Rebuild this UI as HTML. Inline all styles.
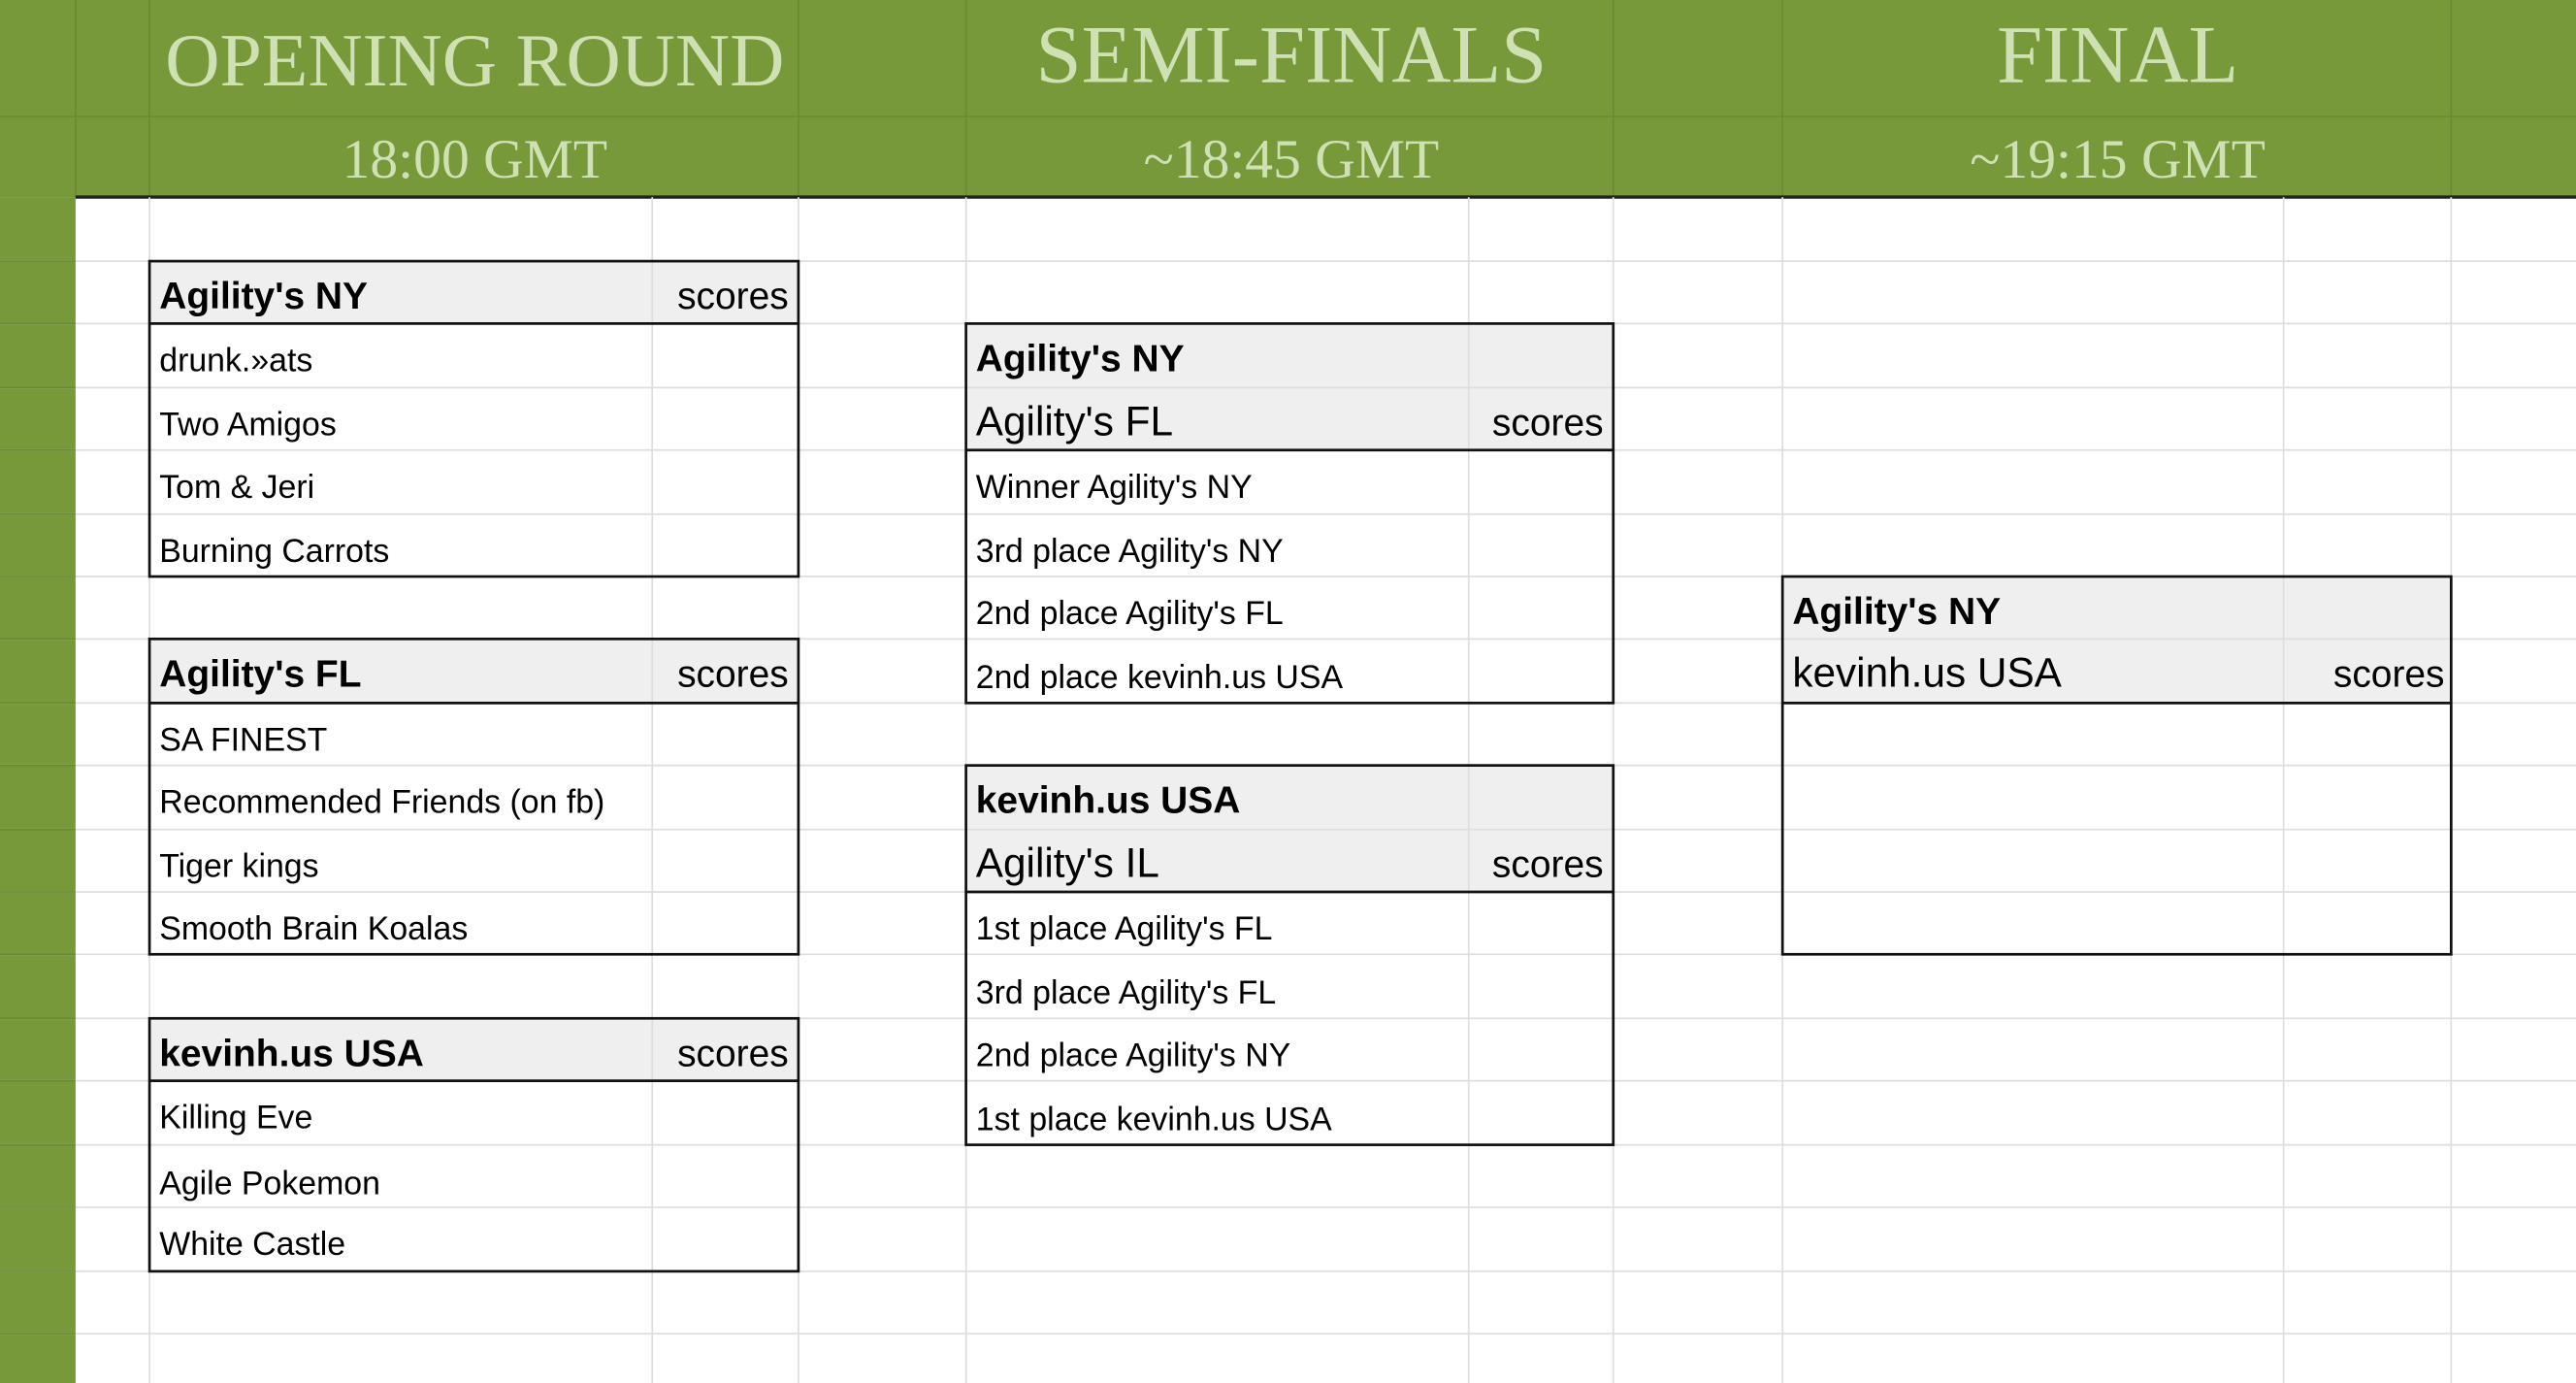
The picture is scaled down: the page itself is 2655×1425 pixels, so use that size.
<!DOCTYPE html>
<html><head><meta charset="utf-8"><style>
html,body{margin:0;padding:0;background:#fff;}
svg{display:block;}
.h{font-family:"Liberation Serif",serif;fill:#cfe0b4;text-anchor:middle;}
.t{font-family:"Liberation Sans",sans-serif;font-size:20px;fill:#000;}
.b{font-family:"Liberation Sans",sans-serif;font-size:23px;font-weight:bold;fill:#000;}
.s{font-family:"Liberation Sans",sans-serif;font-size:23px;fill:#000;text-anchor:end;}
</style></head><body>
<svg width="2655" height="1425" viewBox="0 0 1568 842" preserveAspectRatio="none" xmlns="http://www.w3.org/2000/svg">
<rect x="0" y="0" width="1568" height="842" fill="#fff"/>
<rect x="0" y="0" width="1568" height="120" fill="#77993a"/>
<rect x="0" y="120" width="46" height="722" fill="#77993a"/>
<g stroke="#6a8a33" stroke-width="1">
<line x1="0" y1="71" x2="1568" y2="71"/>
<line x1="46" y1="0" x2="46" y2="120"/><line x1="91" y1="0" x2="91" y2="120"/>
<line x1="486" y1="0" x2="486" y2="120"/><line x1="588" y1="0" x2="588" y2="120"/>
<line x1="982" y1="0" x2="982" y2="120"/><line x1="1085" y1="0" x2="1085" y2="120"/>
<line x1="1492" y1="0" x2="1492" y2="120"/>
</g>
<line x1="46" y1="120" x2="1568" y2="120" stroke="#222" stroke-width="2"/>
<text class="h" x="289" y="52" font-size="46">OPENING ROUND</text>
<text class="h" x="786" y="50" font-size="50">SEMI-FINALS</text>
<text class="h" x="1289" y="50" font-size="50">FINAL</text>
<text class="h" x="289" y="108" font-size="34">18:00 GMT</text>
<text class="h" x="786" y="108" font-size="34">~18:45 GMT</text>
<text class="h" x="1289" y="108" font-size="34">~19:15 GMT</text>
<g fill="#efefef">
<rect x="91" y="159" width="395" height="38"/>
<rect x="91" y="389" width="395" height="39"/>
<rect x="91" y="620" width="395" height="38"/>
<rect x="588" y="197" width="394" height="77"/>
<rect x="588" y="466" width="394" height="77"/>
<rect x="1085" y="351" width="407" height="77"/>
</g>
<g stroke="#dedede" stroke-width="1">
<line x1="0" y1="159" x2="1568" y2="159"/><line x1="0" y1="197" x2="1568" y2="197"/>
<line x1="0" y1="236" x2="1568" y2="236"/><line x1="0" y1="274" x2="1568" y2="274"/>
<line x1="0" y1="313" x2="1568" y2="313"/><line x1="0" y1="351" x2="1568" y2="351"/>
<line x1="0" y1="389" x2="1568" y2="389"/><line x1="0" y1="428" x2="1568" y2="428"/>
<line x1="0" y1="466" x2="1568" y2="466"/><line x1="0" y1="505" x2="1568" y2="505"/>
<line x1="0" y1="543" x2="1568" y2="543"/><line x1="0" y1="581" x2="1568" y2="581"/>
<line x1="0" y1="620" x2="1568" y2="620"/><line x1="0" y1="658" x2="1568" y2="658"/>
<line x1="0" y1="697" x2="1568" y2="697"/><line x1="0" y1="735" x2="1568" y2="735"/>
<line x1="0" y1="774" x2="1568" y2="774"/><line x1="0" y1="812" x2="1568" y2="812"/>
<line x1="91" y1="120" x2="91" y2="842"/><line x1="397" y1="120" x2="397" y2="842"/>
<line x1="486" y1="120" x2="486" y2="842"/><line x1="588" y1="120" x2="588" y2="842"/>
<line x1="894" y1="120" x2="894" y2="842"/><line x1="982" y1="120" x2="982" y2="842"/>
<line x1="1085" y1="120" x2="1085" y2="842"/><line x1="1390" y1="120" x2="1390" y2="842"/>
<line x1="1492" y1="120" x2="1492" y2="842"/>
</g>
<g stroke="#6a8a33" stroke-width="1">
<line x1="0" y1="159" x2="46" y2="159"/><line x1="0" y1="197" x2="46" y2="197"/>
<line x1="0" y1="236" x2="46" y2="236"/><line x1="0" y1="274" x2="46" y2="274"/>
<line x1="0" y1="313" x2="46" y2="313"/><line x1="0" y1="351" x2="46" y2="351"/>
<line x1="0" y1="389" x2="46" y2="389"/><line x1="0" y1="428" x2="46" y2="428"/>
<line x1="0" y1="466" x2="46" y2="466"/><line x1="0" y1="505" x2="46" y2="505"/>
<line x1="0" y1="543" x2="46" y2="543"/><line x1="0" y1="581" x2="46" y2="581"/>
<line x1="0" y1="620" x2="46" y2="620"/><line x1="0" y1="658" x2="46" y2="658"/>
<line x1="0" y1="697" x2="46" y2="697"/><line x1="0" y1="735" x2="46" y2="735"/>
<line x1="0" y1="774" x2="46" y2="774"/><line x1="0" y1="812" x2="46" y2="812"/>
</g>
<g fill="none" stroke="#111" stroke-width="1.6">
<rect x="91" y="159" width="395" height="192"/><line x1="91" y1="197" x2="486" y2="197"/>
<rect x="91" y="389" width="395" height="192"/><line x1="91" y1="428" x2="486" y2="428"/>
<rect x="91" y="620" width="395" height="154"/><line x1="91" y1="658" x2="486" y2="658"/>
<rect x="588" y="197" width="394" height="231"/><line x1="588" y1="274" x2="982" y2="274"/>
<rect x="588" y="466" width="394" height="231"/><line x1="588" y1="543" x2="982" y2="543"/>
<rect x="1085" y="351" width="407" height="230"/><line x1="1085" y1="428" x2="1492" y2="428"/>
</g>
<text class="b" x="97" y="188">Agility's NY</text><text class="s" x="480" y="188">scores</text>
<text class="t" x="97" y="226">drunk.»ats</text>
<text class="t" x="97" y="265">Two Amigos</text>
<text class="t" x="97" y="303">Tom &amp; Jeri</text>
<text class="t" x="97" y="342">Burning Carrots</text>
<text class="b" x="97" y="418">Agility's FL</text><text class="s" x="480" y="418">scores</text>
<text class="t" x="97" y="457">SA FINEST</text>
<text class="t" x="97" y="495">Recommended Friends (on fb)</text>
<text class="t" x="97" y="534">Tiger kings</text>
<text class="t" x="97" y="572">Smooth Brain Koalas</text>
<text class="b" x="97" y="649">kevinh.us USA</text><text class="s" x="480" y="649">scores</text>
<text class="t" x="97" y="687">Killing Eve</text>
<text class="t" x="97" y="727">Agile Pokemon</text>
<text class="t" x="97" y="764">White Castle</text>

<text class="b" x="594" y="226">Agility's NY</text>
<text class="t" x="594" y="265" style="font-size:25px">Agility's FL</text><text class="s" x="976" y="265">scores</text>
<text class="t" x="594" y="303">Winner Agility's NY</text>
<text class="t" x="594" y="342">3rd place Agility's NY</text>
<text class="t" x="594" y="380">2nd place Agility's FL</text>
<text class="t" x="594" y="419">2nd place kevinh.us USA</text>
<text class="b" x="594" y="495">kevinh.us USA</text>
<text class="t" x="594" y="534" style="font-size:25px">Agility's IL</text><text class="s" x="976" y="534">scores</text>
<text class="t" x="594" y="572">1st place Agility's FL</text>
<text class="t" x="594" y="611">3rd place Agility's FL</text>
<text class="t" x="594" y="649">2nd place Agility's NY</text>
<text class="t" x="594" y="688">1st place kevinh.us USA</text>

<text class="b" x="1091" y="380">Agility's NY</text>
<text class="t" x="1091" y="418" style="font-size:25px">kevinh.us USA</text><text class="s" x="1488" y="418">scores</text>
</svg>
</body></html>
